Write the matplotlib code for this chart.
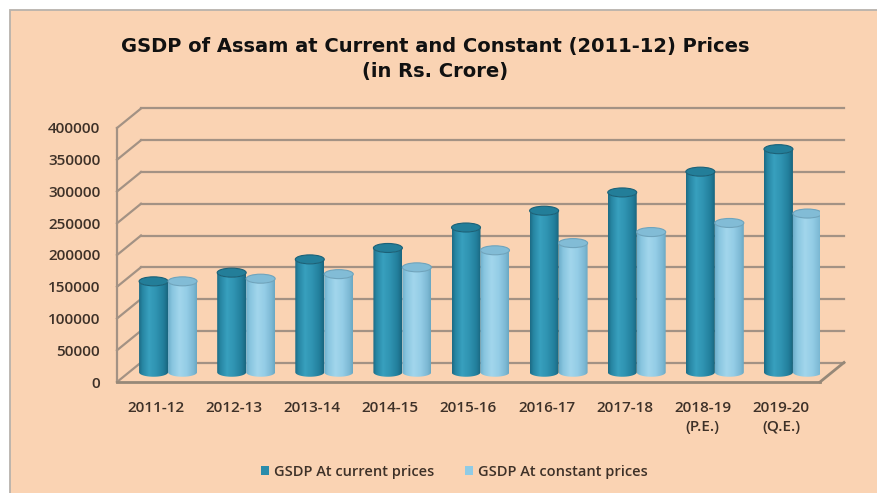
import numpy as np
import matplotlib
matplotlib.use('Agg')
import matplotlib.pyplot as plt
from matplotlib import transforms
from matplotlib.patches import Rectangle, Ellipse, PathPatch, Patch
from matplotlib.path import Path
from matplotlib.colors import LinearSegmentedColormap

# GSDP of Assam, Rs. crore
years = ['2011-12', '2012-13', '2013-14', '2014-15', '2015-16', '2016-17',
         '2017-18', '2018-19\n(P.E.)', '2019-20\n(Q.E.)']
current_prices = [143175, 156864, 177745, 195723, 227959, 254382, 283165, 315881, 351318]
constant_prices = [143175, 147342, 154525, 165212, 192051, 203394, 220769, 235084, 249951]
y_ticks = [0, 50000, 100000, 150000, 200000, 250000, 300000, 350000, 400000]

W, H, DPI = 877, 493, 100
peach = '#FAD3B3'
grid_c = '#A39284'
text_c = '#3E3128'
label_font = ['Open Sans', 'DejaVu Sans']

fig = plt.figure(figsize=(W / DPI, H / DPI), dpi=DPI)
fig.patch.set_facecolor('white')
fig.add_artist(Rectangle((10 / W, -0.05), 1.1, 1 - 10 / H + 0.05,
                         transform=fig.transFigure, facecolor=peach,
                         edgecolor='#B8B2AC', lw=1.3, zorder=0))

# front plane of the 3-D box
ax = fig.add_axes([117 / W, 1 - 382 / H, (820 - 117) / W, (382 - 128) / H])
ax.patch.set_visible(False)
for s in ax.spines.values():
    s.set_visible(False)

n = len(years)
x0, x1 = -0.5, n - 0.5
ymax = y_ticks[-1]

# depth offsets: back wall and the middle plane where the cylinders stand
dx_px, dy_px = 24, 19.5
back = ax.transData + transforms.ScaledTranslation(dx_px / DPI, dy_px / DPI, fig.dpi_scale_trans)
mid = ax.transData + transforms.ScaledTranslation(dx_px / 2 / DPI, dy_px / 2 / DPI, fig.dpi_scale_trans)

ax.set_xlim(x0, x1)
ax.set_ylim(0, ymax)


def depth_line(x, y, **kw):
    """Line running from the front plane to the back wall at data point (x, y)."""
    p0 = ax.transData.transform((x, y))
    p1 = back.transform((x, y))
    ax.plot([p0[0], p1[0]], [p0[1], p1[1]], transform=transforms.IdentityTransform(),
            clip_on=False, **kw)


# back wall grid and side wall diagonals
for t in y_ticks:
    ax.plot([x0, x1], [t, t], transform=back, color=grid_c, lw=1.6, zorder=1, clip_on=False)
    depth_line(x0, t, color=grid_c, lw=1.6, zorder=1)

# left front edge and floor outline
ax.plot([x0, x0], [0, ymax], color=grid_c, lw=1.6, zorder=1, clip_on=False)
ax.plot([x0, x1], [0, 0], color='#968878', lw=2.0, zorder=1, clip_on=False)
depth_line(x1, 0, color='#968878', lw=2.0, zorder=1)

# cylinders
bar_w = 0.371
a = bar_w / 2
b = 4.5 * ymax / ax.bbox.height  # ellipse semi-height in value units

cur_cmap = LinearSegmentedColormap.from_list('cur', [
    (0.0, '#1C6A83'), (0.12, '#2786A3'), (0.35, '#38A0BE'),
    (0.6, '#2F93B1'), (0.85, '#227E9B'), (1.0, '#19657E')])
con_cmap = LinearSegmentedColormap.from_list('con', [
    (0.0, '#6DAECB'), (0.15, '#89C6E0'), (0.4, '#A2D6EC'),
    (0.65, '#94CDE6'), (0.88, '#7DB9D4'), (1.0, '#6AA7C2')])


def cylinder(xc, v, cmap, top_face, top_edge):
    th = np.linspace(np.pi, 2 * np.pi, 40)
    bx, by = xc + a * np.cos(th), b * np.sin(th)
    th2 = np.linspace(0, -np.pi, 40)
    tx, ty = xc + a * np.cos(th2), v + b * np.sin(th2)
    verts = np.concatenate([np.c_[bx, by], np.c_[tx, ty], [[bx[0], by[0]]]])
    body = PathPatch(Path(verts, closed=True), transform=mid,
                     facecolor='none', edgecolor='none', zorder=3)
    ax.add_patch(body)
    grad = np.linspace(0, 1, 256).reshape(1, -1)
    im = ax.imshow(grad, cmap=cmap, aspect='auto', extent=(xc - a, xc + a, -b, v),
                   transform=mid, zorder=3, interpolation='bilinear')
    im.set_clip_path(body)
    ax.add_patch(Ellipse((xc, v), 2 * a, 2 * b, transform=mid, facecolor=top_face,
                         edgecolor=top_edge, lw=0.8, zorder=4))


for i in range(n):
    cylinder(i - a, current_prices[i], cur_cmap, '#237E99', '#1A6178')
    cylinder(i + a, constant_prices[i], con_cmap, '#82BCD6', '#6EA4BD')

ax.set_xlim(x0, x1)
ax.set_ylim(0, ymax)

ax.set_yticks(y_ticks)
ax.set_yticklabels([str(t) for t in y_ticks])
ax.set_xticks(range(n))
ax.set_xticklabels(years, linespacing=1.45)
ax.tick_params(axis='y', length=0, pad=12, labelsize=11, labelcolor=text_c)
ax.tick_params(axis='x', length=0, pad=14, labelsize=11, labelcolor=text_c)
for lab in ax.get_xticklabels() + ax.get_yticklabels():
    lab.set_fontfamily(label_font)
    lab.set_fontweight('semibold')

fig.text(435 / W, 1 - 59 / H,
         'GSDP of Assam at Current and Constant (2011-12) Prices\n(in Rs. Crore)',
         ha='center', va='center', fontsize=14, fontweight='bold',
         color='#111111', linespacing=1.45, family='DejaVu Sans')

handles = [Patch(facecolor='#2A8CAB', label='GSDP At current prices'),
           Patch(facecolor='#8FCBE5', label='GSDP At constant prices')]
leg = fig.legend(handles=handles, loc='center', bbox_to_anchor=(454 / W, 1 - 472 / H),
                 ncol=2, frameon=False, handlelength=0.6, handleheight=0.6,
                 handletextpad=0.3, columnspacing=2.1, fontsize=10.5)
for t in leg.get_texts():
    t.set_color(text_c)
    t.set_fontfamily(label_font)
    t.set_fontweight('semibold')

fig.savefig('out.png', dpi=DPI, facecolor=fig.get_facecolor())
